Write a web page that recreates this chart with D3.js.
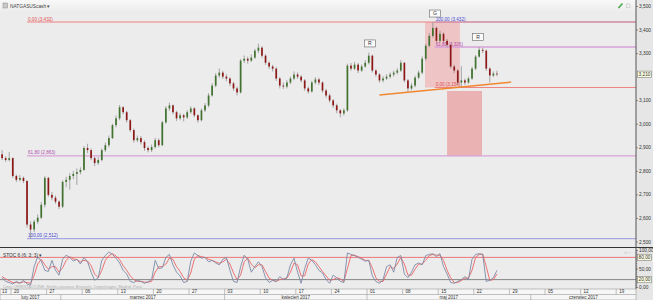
<!DOCTYPE html>
<html>
<head>
<meta charset="utf-8">
<script src="https://cdn.jsdelivr.net/npm/d3@7"></script>
<style>
body { margin: 0; background: #ececec; }
svg { display: block; font-family: "Liberation Sans", Arial, sans-serif; }
</style>
</head>
<body>
<svg id="chart" width="653" height="300"></svg>
<script>
// half-day bars (2 per trading day), bar 3 = monday 20 feb 2017
var firstOpen = 2.870;
var closes = [2.854,2.846,2.854,2.778,2.762,2.770,2.757,2.572,2.551,2.584,
    2.601,2.656,2.770,2.698,2.686,2.669,2.648,2.753,2.762,2.778,
    2.787,2.795,2.804,2.897,2.888,2.854,2.833,2.846,2.888,2.909,
    2.939,2.994,3.023,3.070,3.049,3.015,2.973,2.930,2.939,2.922,
    2.897,2.888,2.901,2.930,2.909,3.006,3.065,3.078,3.049,3.023,
    3.036,3.027,3.049,3.065,3.036,3.015,3.057,3.078,3.120,3.162,
    3.205,3.217,3.200,3.192,3.171,3.150,3.133,3.268,3.276,3.268,
    3.281,3.310,3.323,3.289,3.259,3.243,3.234,3.192,3.162,3.158,
    3.175,3.192,3.209,3.200,3.184,3.150,3.137,3.175,3.188,3.175,
    3.141,3.120,3.099,3.078,3.057,3.044,3.057,3.247,3.234,3.251,
    3.226,3.243,3.259,3.289,3.226,3.209,3.184,3.192,3.200,3.209,
    3.217,3.226,3.259,3.184,3.150,3.162,3.196,3.217,3.276,3.331,
    3.373,3.407,3.352,3.382,3.352,3.335,3.243,3.226,3.175,3.184,
    3.175,3.192,3.234,3.285,3.314,3.310,3.234,3.205,3.213,3.210];
var highs = [2.888,2.862,2.880,2.858,2.785,2.782,2.776,2.760,2.585,2.592,
    2.615,2.668,2.778,2.775,2.710,2.695,2.675,2.760,2.775,2.790,
    2.800,2.810,2.815,2.905,2.915,2.895,2.860,2.858,2.895,2.920,
    2.950,3.000,3.035,3.080,3.075,3.055,3.020,2.980,2.950,2.948,
    2.930,2.905,2.912,2.940,2.938,3.012,3.075,3.090,3.082,3.055,
    3.045,3.042,3.058,3.074,3.070,3.040,3.065,3.088,3.130,3.172,
    3.215,3.235,3.225,3.210,3.198,3.178,3.158,3.275,3.290,3.285,
    3.295,3.318,3.340,3.330,3.295,3.265,3.250,3.240,3.198,3.175,
    3.185,3.200,3.222,3.218,3.206,3.190,3.158,3.182,3.198,3.195,
    3.180,3.148,3.128,3.105,3.085,3.062,3.066,3.255,3.258,3.262,
    3.258,3.252,3.270,3.302,3.294,3.232,3.215,3.202,3.210,3.218,
    3.226,3.236,3.270,3.262,3.190,3.172,3.204,3.226,3.286,3.340,
    3.384,3.432,3.412,3.395,3.388,3.360,3.340,3.250,3.232,3.245,
    3.192,3.200,3.242,3.292,3.325,3.322,3.315,3.240,3.222,3.225];
var lows = [2.846,2.838,2.840,2.770,2.752,2.755,2.748,2.560,2.512,2.540,
    2.575,2.595,2.645,2.690,2.675,2.660,2.638,2.642,2.730,2.720,
    2.765,2.740,2.785,2.800,2.875,2.845,2.820,2.825,2.840,2.880,
    2.900,2.935,2.985,3.015,3.040,3.005,2.965,2.920,2.922,2.912,
    2.885,2.878,2.880,2.895,2.900,2.905,3.000,3.055,3.040,3.012,
    3.015,3.010,3.020,3.042,3.028,3.005,3.010,3.050,3.070,3.115,
    3.155,3.195,3.190,3.180,3.160,3.140,3.120,3.128,3.258,3.255,
    3.262,3.275,3.300,3.280,3.250,3.232,3.222,3.182,3.150,3.148,
    3.150,3.168,3.185,3.190,3.175,3.140,3.128,3.132,3.168,3.165,
    3.132,3.110,3.090,3.068,3.045,3.027,3.035,3.050,3.225,3.228,
    3.215,3.220,3.238,3.252,3.218,3.200,3.175,3.176,3.185,3.192,
    3.200,3.210,3.220,3.176,3.133,3.142,3.155,3.190,3.210,3.268,
    3.325,3.365,3.345,3.346,3.345,3.325,3.235,3.215,3.165,3.152,
    3.165,3.170,3.186,3.228,3.280,3.300,3.225,3.175,3.198,3.202];

// stochastic (6;3;3) %K and %D
var stochK = [25,15,12,8,15,10,18,8,5,55,
    82,70,45,42,72,45,32,75,86,80,
    70,75,62,80,68,40,18,25,72,85,
    95,88,78,65,45,35,15,12,18,15,
    10,14,20,72,50,52,80,88,60,40,
    30,12,15,70,92,85,78,80,68,72,
    65,60,75,80,45,15,12,55,86,75,
    40,55,68,55,25,12,18,15,28,20,
    25,60,78,40,10,50,78,72,60,45,
    38,20,10,32,25,15,12,92,88,85,
    80,75,70,72,30,15,10,20,55,60,
    40,80,85,35,25,40,60,65,60,85,
    88,90,82,90,55,35,12,10,15,20,
    28,20,75,88,90,88,15,18,25,45];
var stochD = [28,22,17,12,12,11,14,12,10,31,
    62,75,60,48,55,55,40,52,72,82,
    76,74,68,72,70,58,35,25,45,72,
    85,90,84,74,58,45,30,20,15,15,
    13,13,15,40,55,55,62,78,75,55,
    42,25,18,38,75,85,82,80,75,72,
    68,64,68,75,62,38,20,32,68,78,
    62,52,60,60,42,24,18,15,20,22,
    24,40,65,60,30,30,62,74,68,55,
    42,30,18,20,25,22,15,50,85,86,
    82,78,72,72,52,25,15,15,35,55,
    50,62,80,62,32,32,48,62,62,72,
    85,88,86,86,72,45,25,12,12,17,
    24,24,45,80,88,89,55,18,20,35];

var priceTicks = [2.5, 2.6, 2.7, 2.8, 2.9, 3.0, 3.1, 3.3, 3.4, 3.5];
var stochTicks = [0, 50, 100];
var stochBoxTicks = [20, 80];
var fibLevels = [0, 61.8, 100];
var weekLabels = ["13","20","27","06","13","20","27","03","10","17","24","01","08","15","22","29","05","12","19"];
var monthLabels = ["luty 2017","marzec 2017","kwiecień 2017","maj 2017","czerwiec 2017"];
var monthStartBars = [-20, 17, 63, 103, 149];

// fibo from the feb low to the may top, and from the top to the pullback low
var bigFib = { from: 2.512, to: 3.432, bar: 7.5 };
var smallFib = { from: 3.154, to: 3.432, bar: 122 };
// head & shoulders: head box, projected target, neckline, labels
var headBox = { bar0: 119.3, bar1: 129.1, top: 3.432, bottom: 3.154 };
var targetBox = { bar0: 125.5, bar1: 135.3, top: 3.139, bottom: 2.863 };
var neckBars = [106.5, 143.5];
var neckPrices = [3.122, 3.177];
var markTexts = ["R", "G", "R"];
var markBars = [103.8, 122.1, 134.2];
var markPrices = [3.341, 3.468, 3.368];

var chart = {};
chart.svg = d3.select("#chart");
chart.axisX = 636;
chart.priceBottom = 247.5;
chart.stochBottom = 289;

chart.x = d3.scaleLinear().domain([3, 13]).range([11, 46.6]);   // bar index -> left edge
chart.y = d3.scaleLinear().domain([2.5, 3.5]).range([241.5, 6]);
chart.ys = d3.scaleLinear().domain([0, 100]).range([287, 250]);
var cx = function(i) { return chart.x(i + 0.5); };
var fmt = function(v, n) { return v.toFixed(n).replace(".", ","); };

var svg = chart.svg;
var defs = svg.append("defs");
var grad = defs.append("linearGradient").attr("id", "topgrad").attr("x1", 0).attr("x2", 0).attr("y1", 0).attr("y2", 1);
grad.append("stop").attr("offset", "0%").attr("stop-color", "#f8f8f8");
grad.append("stop").attr("offset", "100%").attr("stop-color", "#ececec");
defs.append("clipPath").attr("id", "clipPrice").append("rect")
    .attr("x", 0).attr("y", 0).attr("width", chart.axisX).attr("height", chart.priceBottom);
defs.append("clipPath").attr("id", "clipStoch").append("rect")
    .attr("x", 0).attr("y", chart.priceBottom).attr("width", chart.axisX).attr("height", chart.stochBottom - chart.priceBottom);

svg.append("rect").attr("width", 653).attr("height", 300).attr("fill", "#ececec");
svg.append("rect").attr("width", 653).attr("height", 12).attr("fill", "url(#topgrad)");
svg.append("rect").attr("x", chart.axisX).attr("y", 0).attr("width", 653 - chart.axisX).attr("height", 300).attr("fill", "#e6e6e6");

// ---- price panel ----
var pg = svg.append("g").attr("clip-path", "url(#clipPrice)");

function drawBox(b, fill) {
    pg.append("rect")
        .attr("x", chart.x(b.bar0)).attr("width", chart.x(b.bar1) - chart.x(b.bar0))
        .attr("y", chart.y(b.top)).attr("height", chart.y(b.bottom) - chart.y(b.top))
        .attr("fill", fill);
}
drawBox(headBox, "rgba(240,140,140,0.42)");
drawBox(targetBox, "rgba(232,120,120,0.5)");

var fibLine = { 0: "#ee8282", 61.8: "#d8a2da", 100: "#9898e2" };
var fibText = { 0: "#e05050", 61.8: "#b04cb0", 100: "#4848d0" };

function drawFib(f, zeroAtTop) {
    fibLevels.forEach(function(l) {
        var v = zeroAtTop ? f.to - l / 100 * (f.to - f.from) : f.from + l / 100 * (f.to - f.from);
        pg.append("line")
            .attr("x1", chart.x(f.bar)).attr("x2", chart.axisX)
            .attr("y1", chart.y(v)).attr("y2", chart.y(v))
            .attr("stroke", fibLine[l]).attr("stroke-width", l == 61.8 ? 1.3 : 1);
        pg.append("text")
            .attr("x", chart.x(f.bar) + 1).attr("y", chart.y(v) - 1.5)
            .attr("font-size", 4.6).attr("fill", fibText[l])
            .text(fmt(l, 2) + " (" + fmt(v, 3) + ")");
    });
}
drawFib(smallFib, false);
drawFib(bigFib, true);

// candles
var bars = closes.map(function(c, i) {
    return { i: i, o: i == 0 ? firstOpen : closes[i - 1], c: c, h: highs[i], l: lows[i] };
});
pg.selectAll("line.wick").data(bars).enter().append("line")
    .attr("class", "wick")
    .attr("x1", function(d) { return cx(d.i); }).attr("x2", function(d) { return cx(d.i); })
    .attr("y1", function(d) { return chart.y(d.h); }).attr("y2", function(d) { return chart.y(d.l); })
    .attr("stroke", "#858585").attr("stroke-width", 0.7);
pg.selectAll("rect.body").data(bars).enter().append("rect")
    .attr("class", "body")
    .attr("x", function(d) { return cx(d.i) - 0.85; })
    .attr("width", 1.7)
    .attr("y", function(d) { return chart.y(Math.max(d.o, d.c)); })
    .attr("height", function(d) { return Math.max(0.8, Math.abs(chart.y(d.o) - chart.y(d.c))); })
    .attr("fill", function(d) { return d.c >= d.o ? "#41722e" : "#8e1818"; });

// neckline
pg.append("line")
    .attr("x1", chart.x(neckBars[0])).attr("y1", chart.y(neckPrices[0]))
    .attr("x2", chart.x(neckBars[1])).attr("y2", chart.y(neckPrices[1]))
    .attr("stroke", "#f0862e").attr("stroke-width", 1.4);

// R / G / R labels
markTexts.forEach(function(t, k) {
    var mx = chart.x(markBars[k]), my = chart.y(markPrices[k]);
    pg.append("rect").attr("x", mx - 5.5).attr("y", my - 3.5).attr("width", 11).attr("height", 7)
        .attr("fill", "#fafafa").attr("stroke", "#666").attr("stroke-width", 0.6);
    pg.append("text").attr("x", mx).attr("y", my + 1.8).attr("text-anchor", "middle")
        .attr("font-size", 5).attr("fill", "#333").text(t);
});

// ---- stochastic panel ----
var sg = svg.append("g").attr("clip-path", "url(#clipStoch)");
sg.append("line").attr("x1", 0).attr("x2", chart.axisX)
    .attr("y1", chart.ys(80)).attr("y2", chart.ys(80)).attr("stroke", "#ee6a6a").attr("stroke-width", 0.9);
sg.append("line").attr("x1", 0).attr("x2", chart.axisX)
    .attr("y1", chart.ys(20)).attr("y2", chart.ys(20)).attr("stroke", "#7a7a7a").attr("stroke-width", 0.9);
var sline = d3.line().x(function(d, i) { return cx(i); }).y(function(d) { return chart.ys(d); });
sg.append("path").datum(stochD).attr("d", sline).attr("fill", "none").attr("stroke", "#ec6464").attr("stroke-width", 0.9);
sg.append("path").datum(stochK).attr("d", sline).attr("fill", "none").attr("stroke", "#7d8aa6").attr("stroke-width", 0.9);

svg.append("text").attr("x", 3).attr("y", 256.5).attr("font-size", 4.8).attr("fill", "#333")
    .text("STOC 6 (6; 3; 3) \u25BE");
svg.append("text").attr("x", 3).attr("y", 287.5).attr("font-size", 4).attr("fill", "#b0b0b0")
    .text("Ceny ORIENTACYJNE. Strefa czasowa: Brussels, Copenhagen, Madrid, Paris");

svg.append("line").attr("x1", 0).attr("x2", 653)
    .attr("y1", chart.priceBottom).attr("y2", chart.priceBottom).attr("stroke", "#333").attr("stroke-width", 1);

// ---- right axes ----
var pAxis = svg.append("g").attr("transform", "translate(" + chart.axisX + ",0)")
    .call(d3.axisRight(chart.y).tickValues(priceTicks).tickSize(2).tickPadding(1)
        .tickFormat(function(d) { return fmt(d, 3); }));
var sAxisMinor = svg.append("g").attr("transform", "translate(" + chart.axisX + ",0)")
    .call(d3.axisRight(chart.ys).tickValues(d3.range(0, 101, 5)).tickSize(1.2).tickFormat(""));
var sAxis = svg.append("g").attr("transform", "translate(" + chart.axisX + ",0)")
    .call(d3.axisRight(chart.ys).tickValues(stochTicks).tickSize(2).tickPadding(1)
        .tickFormat(function(d) { return fmt(d, 2); }));
[pAxis, sAxis, sAxisMinor].forEach(function(a) {
    a.select(".domain").remove();
    a.selectAll("line").attr("stroke", "#555").attr("stroke-width", 0.6);
    a.selectAll("text").attr("font-size", 4.8).attr("fill", "#333").attr("font-family", "Liberation Sans, Arial, sans-serif");
});
svg.append("line").attr("x1", chart.axisX).attr("x2", chart.axisX).attr("y1", 0).attr("y2", chart.stochBottom)
    .attr("stroke", "#555").attr("stroke-width", 1);

function valueBox(yv, label) {
    svg.append("rect").attr("x", chart.axisX + 1.5).attr("y", yv - 3.2).attr("width", 14).attr("height", 6.4)
        .attr("fill", "#fbfbe2").attr("stroke", "#666").attr("stroke-width", 0.5);
    svg.append("text").attr("x", chart.axisX + 2.5).attr("y", yv + 1.7).attr("font-size", 4.8).attr("fill", "#333").text(label);
}
stochBoxTicks.forEach(function(t) { valueBox(chart.ys(t), fmt(t, 2)); });
valueBox(chart.y(closes[closes.length - 1]), fmt(closes[closes.length - 1], 3));

// ---- date axis ----
svg.append("rect").attr("x", 0).attr("y", chart.stochBottom).attr("width", chart.axisX).attr("height", 300 - chart.stochBottom)
    .attr("fill", "#f6f6f6").attr("stroke", "#9a9a9a").attr("stroke-width", 0.6);
svg.append("line").attr("x1", 0).attr("x2", chart.axisX).attr("y1", 294.5).attr("y2", 294.5)
    .attr("stroke", "#9a9a9a").attr("stroke-width", 0.6);
weekLabels.forEach(function(w, k) {
    var b = 3 + 10 * (k - 1);
    var wx = chart.x(b);
    svg.append("line").attr("x1", wx).attr("x2", wx).attr("y1", chart.stochBottom).attr("y2", 294.5)
        .attr("stroke", "#9a9a9a").attr("stroke-width", 0.6);
    svg.append("text").attr("x", Math.max(2, wx + 3)).attr("y", 293.4).attr("font-size", 4.5).attr("fill", "#333").text(w);
});
monthLabels.forEach(function(m, k) {
    var a = Math.max(0, chart.x(monthStartBars[k]));
    var b = k + 1 < monthStartBars.length ? chart.x(monthStartBars[k + 1]) : chart.axisX;
    if (k > 0) svg.append("line").attr("x1", a).attr("x2", a).attr("y1", 294.5).attr("y2", 300)
        .attr("stroke", "#9a9a9a").attr("stroke-width", 0.6);
    svg.append("text").attr("x", (a + b) / 2).attr("y", 299.2).attr("text-anchor", "middle")
        .attr("font-size", 4.5).attr("fill", "#333").text(m);
});

// ---- header ----
svg.append("rect").attr("x", 3).attr("y", 3).attr("width", 4.5).attr("height", 5)
    .attr("fill", "#c8c8c8").attr("stroke", "#888").attr("stroke-width", 0.5);
svg.append("text").attr("x", 10).attr("y", 7.6).attr("font-size", 4.8).attr("fill", "#444").text("NATGASUScash \u25BE");
svg.append("line").attr("x1", 618.5).attr("y1", 8).attr("x2", 622.5).attr("y2", 3.5)
    .attr("stroke", "#4aa84a").attr("stroke-width", 1.6);
svg.append("rect").attr("x", 626.5).attr("y", 4).attr("width", 3.5).attr("height", 3.5)
    .attr("fill", "none").attr("stroke", "#c4c4c4").attr("stroke-width", 0.6);
svg.append("text").attr("x", 624).attr("y", 253.5).attr("font-size", 4).attr("fill", "#c0c0c0").text("\u2299 \u00D7");
</script>
</body>
</html>
